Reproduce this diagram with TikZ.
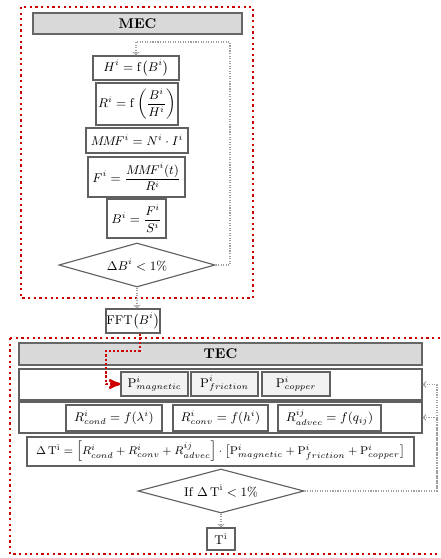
\documentclass[tikz,border=0pt]{standalone}
\usepackage{amsmath}
\usetikzlibrary{arrows,positioning,shapes.geometric,shadows}

\tikzset{
  eqbox/.style={draw=gray!75!black, thick, fill=white, inner sep=0pt,
    drop shadow={shadow xshift=0.6pt, shadow yshift=-0.6pt, opacity=0.25}},
  pbox/.style={eqbox, fill=gray!10},
  rowbox/.style={draw=gray!75!black, thick, fill=white, inner sep=0pt,
    drop shadow={shadow xshift=0.6pt, shadow yshift=-0.6pt, opacity=0.2}},
  headbox/.style={draw=gray!80!black, thick, fill=gray!30, inner sep=0pt,
    font=\normalsize\bfseries, drop shadow={shadow xshift=0.8pt, shadow yshift=-0.8pt, opacity=0.3}},
  testbox/.style={diamond, draw=gray!75!black, thick, fill=white, inner sep=0pt},
  frame/.style={draw=red!80!black, line width=1.6pt, dash pattern=on 1.6pt off 2.4pt},
  flow/.style={draw=gray!75, densely dotted, thick, -to},
  fftflow/.style={draw=red!80!black, line width=1.8pt, dash pattern=on 1.6pt off 1.4pt, -stealth'}
}

\begin{document}
\begin{tikzpicture}[x=0.025cm, y=-0.025cm, font=\small]
  \useasboundingbox (0,0) rectangle (440,558);

  % MEC part
  \draw[frame] (21,7) rectangle (253,298);
  \node[headbox, minimum width=5.225cm, minimum height=0.525cm] (mechead) at (137.5,23.5) {MEC};
  \node[eqbox, minimum width=2.15cm, minimum height=0.6cm] (hbox) at (136,68) {$H^{i} = \mathrm{f}\big(B^{i}\big)$};
  \node[eqbox, minimum width=2.05cm, minimum height=1.05cm] (rbox) at (137,104) {$R^{i} = \mathrm{f}\left(\dfrac{B^{i}}{H^{i}}\right)$};
  \node[eqbox, minimum width=2.55cm, minimum height=0.625cm] (mmfbox) at (137,140.5) {$M\!M\!F^{i} = N^{i}\cdot I^{i}$};
  \node[eqbox, minimum width=2.425cm, minimum height=1cm] (fbox) at (136.5,177) {$F^{i} = \dfrac{M\!M\!F^{i}(t)}{R^{i}}$};
  \node[eqbox, minimum width=1.475cm, minimum height=0.975cm] (bbox) at (136.5,218.5) {$B^{i} = \dfrac{F^{i}}{S^{i}}$};
  \node[testbox, aspect=3.5, minimum width=3.9cm, minimum height=1.1cm] (dbtest) at (137,265) {$\Delta B^{i} < 1\%$};
  \coordinate (mecloop) at (230,42);
  \draw[flow] (dbtest.east) -| (mecloop) -| (hbox.north);

  % FFT
  \node[eqbox, minimum width=1.35cm, minimum height=0.6cm] (fftbox) at (133,321) {$\mathrm{FFT}\big(B^{i}\big)$};
  \draw[flow] (dbtest.south) -- (dbtest.south |- fftbox.north);

  % TEC part
  \draw[frame] (10,338) rectangle (442,554);
  \node[headbox, minimum width=10.075cm, minimum height=0.55cm] (techead) at (220.5,354) {TEC};
  \node[rowbox, minimum width=10.075cm, minimum height=0.775cm] (prow) at (220.5,384.5) {};
  \node[pbox, minimum width=1.675cm, minimum height=0.6cm] (pmag) at (154.5,384) {$\mathrm{P}^{i}_{magnetic}$};
  \node[pbox, minimum width=1.675cm, minimum height=0.6cm] (pfric) at (224.5,384) {$\mathrm{P}^{i}_{friction}$};
  \node[pbox, minimum width=1.7cm, minimum height=0.6cm] (pcop) at (296,384) {$\mathrm{P}^{i}_{copper}$};
  \node[rowbox, minimum width=10.075cm, minimum height=0.775cm] (rrow) at (220.5,417.5) {};
  \node[eqbox, minimum width=2.4cm, minimum height=0.65cm] (rcond) at (114,418) {$R^{i}_{cond} = f(\lambda^{i})$};
  \node[eqbox, minimum width=2.375cm, minimum height=0.65cm] (rconv) at (220.5,418) {$R^{i}_{conv} = f(h^{i})$};
  \node[eqbox, minimum width=2.575cm, minimum height=0.65cm] (radv) at (329.5,418) {$R^{ij}_{advec} = f(q_{ij})$};
  \node[eqbox, minimum width=9.675cm, minimum height=0.725cm, font=\fontsize{8.4}{10}\selectfont] (dtbox) at (220.5,451.5)
    {$\Delta\,\mathrm{T}^{\mathrm{i}} = \Big[R^{i}_{cond} + R^{i}_{conv} + R^{ij}_{advec}\Big]\cdot\big[\mathrm{P}^{i}_{magnetic} + \mathrm{P}^{i}_{friction} + \mathrm{P}^{i}_{copper}\big]$};
  \node[testbox, aspect=3.8, minimum width=4.15cm, minimum height=1.1cm] (dttest) at (221,491) {If $\Delta\,\mathrm{T}^{\mathrm{i}} < 1\%$};
  \node[eqbox, minimum width=0.7cm, minimum height=0.55cm] (tbox) at (221,539) {$\mathrm{T}^{\mathrm{i}}$};
  \draw[flow] (dttest.south) -- (tbox.north);
  \coordinate (tecloop) at (437,491);
  \draw[flow] (dttest.east) -- (tecloop) |- (prow.east);
  \draw[flow] (tecloop) |- (rrow.east);

  % spectrum into the losses
  \coordinate (fftbend) at (106,351);
  \draw[fftflow] ([xshift=5]fftbox.south) |- (fftbend) |- (pmag.west);
\end{tikzpicture}
\end{document}
